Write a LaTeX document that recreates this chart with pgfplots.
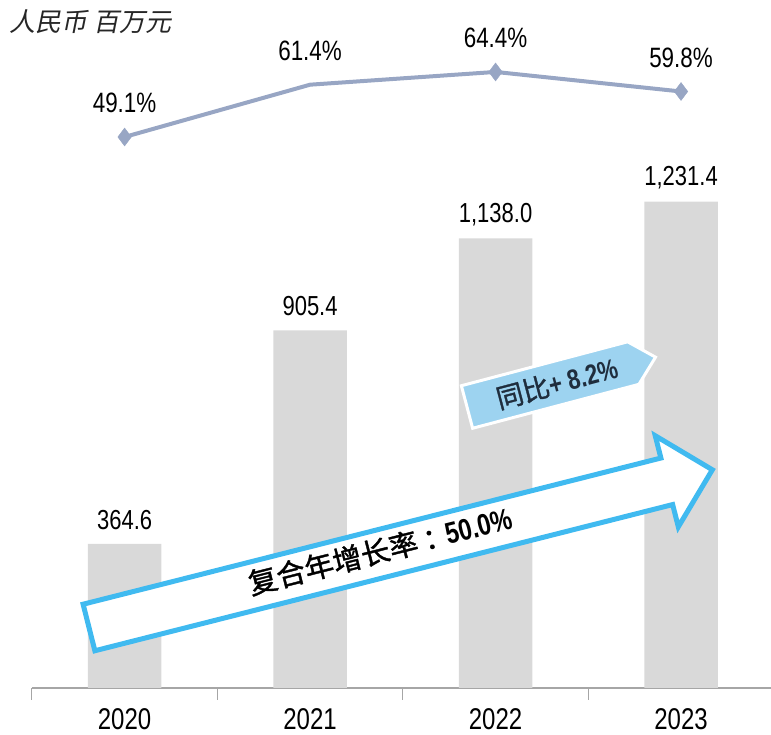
\documentclass[border=0pt]{standalone}
\usepackage{fontspec}
\usepackage{pgfplots}
\pgfplotsset{compat=1.18}
\setmainfont{Liberation Sans}[FakeStretch=0.8]
\newfontfamily\cjk{Noto Sans CJK SC}
\newfontfamily\cjkm{Noto Sans CJK SC}[FakeBold=1.3]
\newfontfamily\cjkit{Noto Sans CJK SC}[FakeSlant=0.2]
\definecolor{bargray}{RGB}{217,217,217}
\definecolor{linec}{RGB}{152,166,196}
\definecolor{arrowblue}{RGB}{64,186,240}
\definecolor{lightblue}{RGB}{157,211,240}
\definecolor{navy}{RGB}{31,45,61}
\definecolor{axisgray}{RGB}{166,166,166}
\definecolor{unitgray}{RGB}{38,38,38}
\pgfplotsset{/pgf/number format/assume math mode=true}
\begin{document}
\begin{tikzpicture}[x=1pt,y=1pt]
\path[use as bounding box] (0,0) rectangle (771,735);
\begin{axis}[at={(31.85pt,47pt)}, anchor=south west, scale only axis,
  width=739.15pt, height=678pt, xmin=-0.5, xmax=3.485, ymin=0, ymax=1716.5,
  axis x line=bottom, axis y line=none,
  axis line style={-, draw=axisgray, line width=1.5pt},
  xtick={0,1,2,3}, xticklabels={2020,2021,2022,2023},
  major tick length=0pt,
  minor xtick={-0.5,0.5,1.5,2.5,3.5}, minor tick length=12pt,
  tick align=outside, tick style={draw=axisgray, line width=1.2pt},
  xticklabel style={font=\fontsize{30}{32}\selectfont, yshift=-17pt},
  ybar, bar width=73.5pt, clip=false,
  nodes near coords={\pgfmathprintnumber[fixed,fixed zerofill,precision=1,1000 sep={,}]{\pgfplotspointmeta}},
  nodes near coords style={font=\fontsize{27.5}{30}\selectfont, anchor=center, yshift=24pt}]
\addplot[fill=bargray, draw=none] coordinates {(0,364.6) (1,905.4) (2,1138.0) (3,1231.4)};
\end{axis}
\begin{axis}[at={(31.85pt,47pt)}, anchor=south west, scale only axis,
  width=739.15pt, height=678pt, xmin=-0.5, xmax=3.485, ymin=-80.55, ymax=78.98,
  hide axis, clip=false]
\addplot[color=linec, line width=4pt, line join=round, mark=none,
  nodes near coords, point meta=explicit symbolic,
  every node near coord/.append style={font=\fontsize{28}{30}\selectfont, text=black, anchor=center, yshift=34pt}]
  coordinates {(0,49.1)[49.1\%] (1,61.4)[61.4\%] (2,64.4)[64.4\%] (3,59.8)[59.8\%]};
\addplot[only marks, mark=diamond*, mark size=9pt, mark options={fill=linec, draw=linec}]
  coordinates {(0,49.1) (2,64.4) (3,59.8)};
\end{axis}
\begin{scope}[shift={(89,107.5)}, rotate=14.2]
\draw[arrowblue, line width=5pt, fill=white, line join=miter]
  (0,24) -- (596,24) -- (596,47) -- (643,0) -- (596,-47) -- (596,-24) -- (0,-24) -- cycle;
\node[rotate=14.2, text=black] at (301,3) {{\fontsize{29}{32}\selectfont\cjkm 复合年增长率\hspace{6pt}：\hspace{-6pt}}{\fontsize{30}{32}\selectfont\bfseries 50.0\%}};
\end{scope}
\begin{scope}[shift={(467,328)}, rotate=14.8]
\draw[white, line width=3pt, fill=lightblue, line join=miter]
  (0,22) -- (172,22) -- (195,0) -- (172,-22) -- (0,-22) -- cycle;
\node[rotate=14.8, text=navy] at (93,0) {{\fontsize{27}{30}\selectfont\cjkm 同比}{\fontsize{28}{30}\selectfont\bfseries + 8.2\%}};
\end{scope}
\node[anchor=west, text=unitgray] at (6,713) {\fontsize{26}{28}\selectfont\cjkit 人民币 百万元};
\end{tikzpicture}
\end{document}
